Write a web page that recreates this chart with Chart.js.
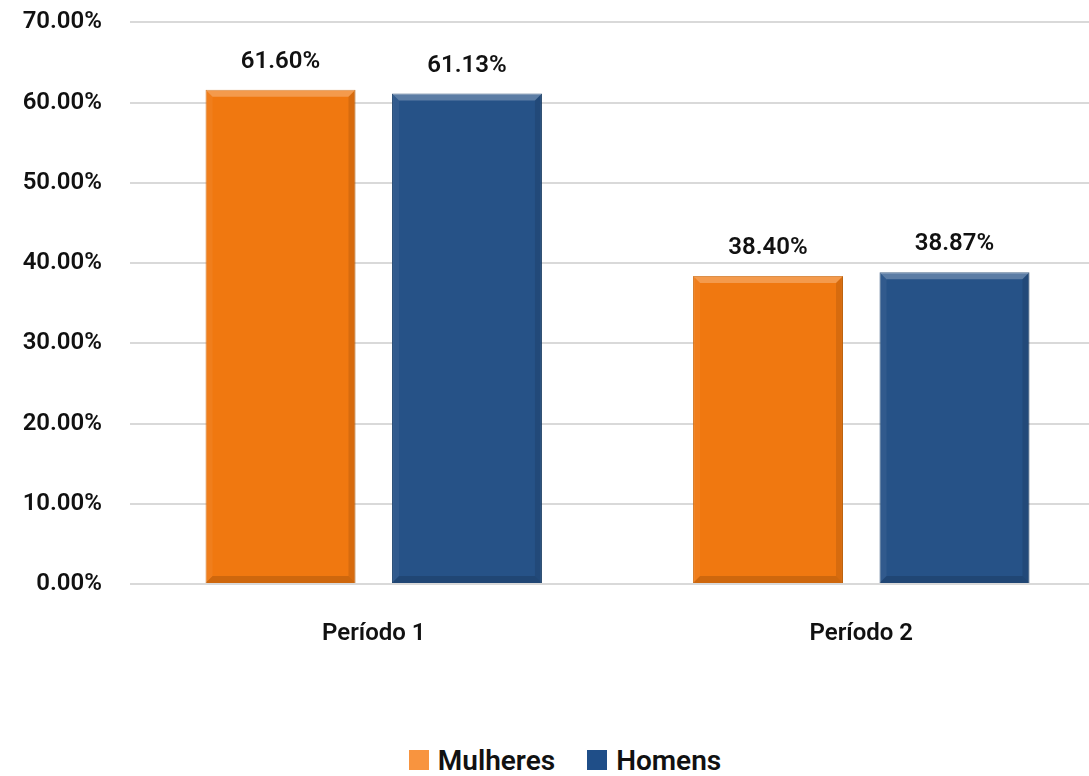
<!DOCTYPE html>
<html>
<head>
<meta charset="utf-8">
<script src="https://cdn.jsdelivr.net/npm/chart.js@4/dist/chart.umd.min.js"></script>
<style>
  html, body { margin: 0; padding: 0; background: #fff; overflow: hidden; width: 1089px; height: 776px; }
  #wrap { position: absolute; left: 0; top: -20px; width: 1105px; height: 710px; }
  #legend { position: absolute; top: 744px; left: 0; width: 1130px; text-align: center;
            font: 600 28px Roboto, sans-serif; color: #111; }
  #legend span.item { display: inline-block; margin: 0 16px; }
  #legend span.box { display: inline-block; width: 20px; height: 20px; margin-right: 9px; vertical-align: 0px; }
</style>
</head>
<body>
<div id="wrap"><canvas id="chart"></canvas></div>
<div id="legend"></div>
<script>
const categories = ['Período 1', 'Período 2'];
const mulheres = [61.60, 38.40];
const homens = [61.13, 38.87];
const yTicks = [0, 10, 20, 30, 40, 50, 60, 70];

const FONT = 'Roboto, sans-serif';
const TEXT = '#111111';

// bevel look like the office chart
const bevelPlugin = {
  id: 'bevel',
  afterDatasetsDraw(chart) {
    const ctx = chart.ctx;
    chart.data.datasets.forEach((ds, i) => {
      chart.getDatasetMeta(i).data.forEach(bar => {
        const l = bar.x - bar.width / 2, r = bar.x + bar.width / 2;
        const t = bar.y, b = bar.base, s = 7;
        const poly = (pts, fill) => {
          ctx.beginPath();
          ctx.moveTo(pts[0][0], pts[0][1]);
          pts.slice(1).forEach(p => ctx.lineTo(p[0], p[1]));
          ctx.closePath();
          ctx.fillStyle = fill;
          ctx.fill();
        };
        ctx.save();
        poly([[l, t], [r, t], [r - s, t + s], [l + s, t + s]], 'rgba(255,255,255,0.25)');
        poly([[l, t], [l + s, t + s], [l + s, b - s], [l, b]], 'rgba(255,255,255,0.05)');
        poly([[r, t], [r, b], [r - s, b - s], [r - s, t + s]], 'rgba(0,0,0,0.10)');
        poly([[l, b], [l + s, b - s], [r - s, b - s], [r, b]], 'rgba(0,0,0,0.14)');
        ctx.restore();
      });
    });
  }
};

const valueLabels = {
  id: 'valueLabels',
  afterDatasetsDraw(chart) {
    const ctx = chart.ctx;
    ctx.save();
    ctx.font = '600 24px ' + FONT;
    ctx.fillStyle = TEXT;
    ctx.textAlign = 'center';
    ctx.textBaseline = 'bottom';
    chart.data.datasets.forEach((ds, i) => {
      chart.getDatasetMeta(i).data.forEach((bar, j) => {
        ctx.fillText(ds.data[j].toFixed(2) + '%', bar.x, bar.y - 16);
      });
    });
    ctx.restore();
  }
};

const chart = new Chart(document.getElementById('chart'), {
  type: 'bar',
  data: {
    labels: categories,
    datasets: [
      { label: 'Mulheres', data: mulheres, backgroundColor: '#F07810', borderColor: '#D06A0C', borderWidth: 1, legendColor: '#F8943F' },
      { label: 'Homens', data: homens, backgroundColor: '#265287', borderColor: '#1F4570', borderWidth: 1, legendColor: '#1F4E88' }
    ]
  },
  options: {
    responsive: true,
    maintainAspectRatio: false,
    animation: false,
    layout: { padding: { top: 2, right: 0, left: 0, bottom: 0 } },
    datasets: { bar: { categoryPercentage: 0.765, barPercentage: 0.804 } },
    plugins: {
      legend: { display: false },
      tooltip: { enabled: false }
    },
    scales: {
      x: {
        grid: { display: false },
        border: { display: false },
        ticks: { color: TEXT, font: { family: FONT, size: 24, weight: '600' }, padding: 28 },
        afterFit(scale) { scale.height = 106; }
      },
      y: {
        min: 0,
        max: 70,
        afterBuildTicks(scale) { scale.ticks = yTicks.map(v => ({ value: v })); },
        grid: { color: '#D9D9D9', lineWidth: 2, drawTicks: false },
        border: { display: false },
        ticks: {
          color: TEXT,
          font: { family: FONT, size: 24, weight: '600' },
          padding: 28,
          callback: v => v.toFixed(2) + '%'
        },
        afterFit(scale) { scale.width = 130; }
      }
    }
  },
  plugins: [bevelPlugin, valueLabels]
});

// html legend built from the datasets
const legend = document.getElementById('legend');
chart.data.datasets.forEach(ds => {
  const item = document.createElement('span');
  item.className = 'item';
  item.innerHTML = `<span class="box" style="background:${ds.legendColor}"></span>${ds.label}`;
  legend.appendChild(item);
});
</script>
</body>
</html>
